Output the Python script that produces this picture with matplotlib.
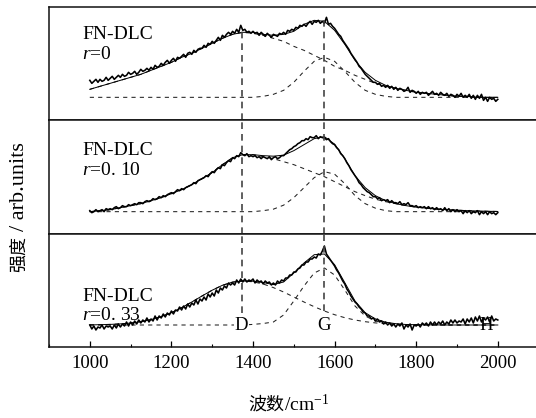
import numpy as np
import matplotlib
matplotlib.use("Agg")
import matplotlib.pyplot as plt
from matplotlib.ticker import MultipleLocator

plt.rcParams['font.family'] = ['Liberation Serif', 'Noto Sans CJK SC', 'DejaVu Sans']
plt.rcParams['mathtext.fontset'] = 'custom'
plt.rcParams['mathtext.rm'] = 'Liberation Serif'
plt.rcParams['mathtext.it'] = 'Liberation Serif:italic'

# ---------------- data ----------------
wn_start, wn_end = 1000, 2000
data_step, fit_step = 5, 25

sample_labels = ["FN-DLC", "FN-DLC", "FN-DLC"]
r_labels = ["$r$=0", "$r$=0. 10", "$r$=0. 33"]
band_pos = [1372, 1574]          # D and G band positions
band_names = ["D", "G", "H"]
band_label_x = [1372, 1573, 1971]

# measured spectra (arb. units), 5 cm-1 sampling from 1000 to 2000
spec_r0 = [
 40,37,39,41,38, 41,39,40,43,40, 42,44,41,43,45, 43,46,44,45,48,
 46,47,49,46,48, 51,49,50,52,50, 53,51,55,53,54, 57,55,58,60,57,
 60,62,59,63,62, 64,66,63,67,68, 66,70,68,71,72, 72,75,73,77,76,
 79,77,80,83,80, 85,83,86,88,86, 89,87,91,88,95, 90,91,88,89,87,
 89,87,88,85,88, 86,84,87,85,83, 86,85,84,87,86, 88,86,90,89,91,
 90,93,92,95,94, 96,94,97,99,96, 99,98,100,97,99, 97,103,96,97,94,
 92,89,86,84,80, 77,74,71,67,64, 61,58,54,52,49, 46,44,42,40,38,
 38,36,37,34,35, 33,35,32,34,31, 33,30,32,31,29, 30,33,28,30,29,
 27,29,26,28,27, 28,25,27,29,26, 27,25,28,26,25, 27,24,26,25,23,
 26,24,27,23,25, 23,26,22,25,21, 25,22,26,20,23, 19,23,21,22,19,
 21]
spec_r010 = [
 23,21,22,24,22, 23,24,22,25,24, 25,24,26,27,25, 26,28,27,27,29,
 28,29,30,29,31, 31,30,32,33,32, 33,35,34,35,37, 36,38,37,39,40,
 41,40,42,44,43, 45,44,46,47,48, 49,51,50,53,54, 55,56,58,57,60,
 62,61,64,66,65, 69,68,71,73,72, 76,75,78,77,81, 79,78,80,77,78,
 77,78,76,77,75, 77,76,75,77,74, 76,77,75,76,78, 78,80,82,84,85,
 87,88,90,91,93, 93,95,94,97,96, 96,98,95,97,96, 96,94,95,92,90,
 89,86,84,80,78, 75,71,68,64,61, 58,55,51,49,46, 44,42,41,39,37,
 37,35,36,33,34, 33,34,31,33,31, 31,30,32,29,30, 29,31,28,28,27,
 28,26,27,26,27, 25,27,25,26,24, 26,24,25,23,26, 23,25,22,24,22,
 24,22,23,20,23, 21,23,20,22,21, 23,19,22,20,22, 19,22,20,21,19,
 21]
spec_r033 = [
 22,18,21,17,20, 19,22,18,21,20, 21,18,22,19,23, 20,23,21,25,21,
 25,22,26,23,27, 24,27,25,29,25, 28,26,31,27,31, 29,33,30,34,32,
 36,33,37,36,40, 37,41,38,43,40, 44,42,47,43,48, 46,50,47,53,50,
 54,51,57,54,59, 57,61,59,64,62, 64,62,67,64,68, 65,68,65,67,66,
 68,64,67,65,66, 63,66,64,65,62, 64,62,66,64,67, 66,69,69,72,72,
 75,75,78,79,82, 82,85,85,88,88, 90,89,93,92,96, 101,93,90,87,84,
 81,77,74,70,66, 63,58,55,51,48, 45,43,40,38,35, 34,31,31,28,29,
 26,28,25,26,23, 25,22,24,21,23, 20,23,21,24,18, 22,20,23,17,22,
 21,23,20,24,22, 24,21,25,22,25, 22,25,23,26,22, 25,23,27,24,27,
 24,26,25,28,23, 28,25,29,24,30, 26,31,25,29,27, 30,25,31,26,28,
 27]

# fitted curves, 25 cm-1 sampling from 1000 to 2000
fit_r0 = [31,34,37,40,43,46,50,54,58,63,67,72,77,82,86,88,88,86,85,86,89,
          96,100,99,90,76,60,48,40,35,32,30,28,27,26,25,24,24,23,23,23]
dband_r0 = [31,34,37,40,43,46,50,54,58,63,67,72,77,82,86,88,87,85,82,79,74,
            70,65,60,54,50,45,41,37,34,32,30,28,27,26,25,24,24,23,23,23]
gband_r0 = [23,23,23,23,23,23,23,23,23,23,23,23,23,23,23,23,23,24,26,30,38,
            49,59,63,59,49,38,30,26,24,23,23,23,23,23,23,23,23,23,23,23]

fit_r010 = [22,23,24,26,28,30,33,36,40,44,49,55,61,69,76,79,79,78,77.5,78.5,83,
            89,95,97,89.5,75,58,46,38,33,30,28,26.5,25.5,24.5,24,23.5,23,22.7,22.4,22.2]
dband_r010 = [22,23,24,26,28,30,33,36,40,44,49,55,61,69,76,79,79,77,75,72,69,
              65,61,57,52,47,42,38,34.5,32,30,28,26.5,25.5,24.5,24,23.5,23,22.7,22.4,22.2]
gband_r010 = [22,22,22,22,22,22,22,22,22,22,22,22,22,22,22,22,22,23,24.5,28.5,36,
              46,56,62,59.5,50,38,30,25.5,23,22,22,22,22,22,22,22,22,22,22,22]

fit_r033 = [22.1,22.3,22.6,23.1,23.9,25.3,27.4,30.4,34.3,39.3,45,51,56.8,61.7,64.9,66,
            65.8,64.5,62.4,65,74,84,92.3,93,82.3,64.3,46,34.3,28.1,24.8,23.3,22.5,22.3,
            22.2,22.1,22,22,22,22,22,22]
dband_r033 = [22.1,22.3,22.6,23.1,23.9,25.3,27.4,30.4,34.3,39.3,45,51,56.8,61.7,64.9,66,
              65.2,63,59.4,55,50,45,40.3,36,32.3,29.3,27,25.3,24.1,23.3,22.8,22.5,22.3,
              22.2,22.1,22,22,22,22,22,22]
gband_r033 = [22,22,22,22,22,22,22,22,22,22,22,22,22,22,22,22,
              22.6,23.5,25,32,46,61,74,79,72,57,41,31,26,23.5,22.5,
              22,22,22,22,22,22,22,22,22,22]

spectra = [spec_r0, spec_r010, spec_r033]
fits = [fit_r0, fit_r010, fit_r033]
dbands = [dband_r0, dband_r010, dband_r033]
gbands = [gband_r0, gband_r010, gband_r033]

x_data = np.arange(wn_start, wn_end + 1, data_step)
x_fit = np.arange(wn_start, wn_end + 1, fit_step)

# ---------------- figure ----------------
W, H = 536, 418
fig = plt.figure(figsize=(W / 100, H / 100), dpi=100)

left_px, top_px, bottom_px = 49, 7, 347
xmin, xmax = 900, 2100
px_per_unit = 0.408
right_px = left_px + (xmax - xmin) * px_per_unit
panel_h = (bottom_px - top_px) / 3
ymax = panel_h

vline_top_end = [89, 101]
vline_bottom_end = [34, 36]
text_y = [(81, 61), (79, 59), (46, 27)]
band_label_y = 22

axes = []   # axes[0] = top panel (r=0)
for i in range(3):
    y_top = top_px + i * panel_h
    ax = fig.add_axes([left_px / W, 1 - (y_top + panel_h) / H,
                       (right_px - left_px) / W, panel_h / H])
    axes.append(ax)

for k, ax in enumerate(axes):
    ax.set_xlim(xmin, xmax)
    ax.set_ylim(0, ymax)
    ax.set_yticks([])
    for s in ax.spines.values():
        s.set_linewidth(1.1)
        s.set_color('#111111')
    ax.spines['right'].set_visible(False)

    dl, = ax.plot(x_fit, dbands[k], color='#222222', lw=0.75, zorder=2)
    dl.set_dashes([4, 4])
    gl, = ax.plot(x_fit, gbands[k], color='#222222', lw=0.75, zorder=2)
    gl.set_dashes([4, 4])
    ax.plot(x_fit, fits[k], color='black', lw=0.7, zorder=3)
    ax.plot(x_data, spectra[k], color='black', lw=1.15, zorder=4)

    ax.text(981, text_y[k][0], sample_labels[k], fontsize=14, va='baseline', ha='left')
    ax.text(981, text_y[k][1], r_labels[k], fontsize=14, va='baseline', ha='left')

    if k == 2:
        ax.tick_params(axis='x', which='major', direction='in', length=4.5,
                       width=0.9, labelsize=13.5, pad=6)
        ax.tick_params(axis='x', which='minor', direction='in', length=2.5, width=0.8)
        ax.xaxis.set_major_locator(MultipleLocator(200))
        ax.xaxis.set_minor_locator(MultipleLocator(100))
    else:
        ax.set_xticks([])
        ax.tick_params(axis='x', which='both', length=0)

    for j, bp in enumerate(band_pos):
        if k == 0:
            lo, hi = 0, vline_top_end[j] / ymax
        elif k == 2:
            lo, hi = vline_bottom_end[j] / ymax, 1
        else:
            lo, hi = 0, 1
        vl = ax.axvline(bp, ymin=lo, ymax=hi, color='#444444', lw=1.2, zorder=5)
        vl.set_dashes([4, 3])

bax = axes[2]
for j, name in enumerate(band_names):
    kw = dict(fontsize=13.5, ha='center', va='center', zorder=6)
    if name in ("D", "G"):
        kw['bbox'] = dict(facecolor='white', edgecolor='none', pad=0.5)
    bax.text(band_label_x[j], band_label_y, name, **kw)

cjk = 'Noto Sans CJK SC'
serif = 'Liberation Serif'
# x label: 波数/cm-1
fig.text(248 / W, 1 - 405 / H, "波数", ha='left', va='center', fontsize=13, family=cjk)
fig.text(284 / W, 1 - 405 / H, "/cm$^{-1}$", ha='left', va='center', fontsize=14, family=serif)
# y label: 强度/arb.units
fig.text(19 / W, 1 - 272 / H, "强度", ha='center', va='bottom', rotation=90,
         fontsize=13, family=cjk)
fig.text(20 / W, 1 - 231 / H, "/ arb.units", ha='center', va='bottom', rotation=90,
         fontsize=16, family=serif)

fig.savefig("out.png", dpi=100)
